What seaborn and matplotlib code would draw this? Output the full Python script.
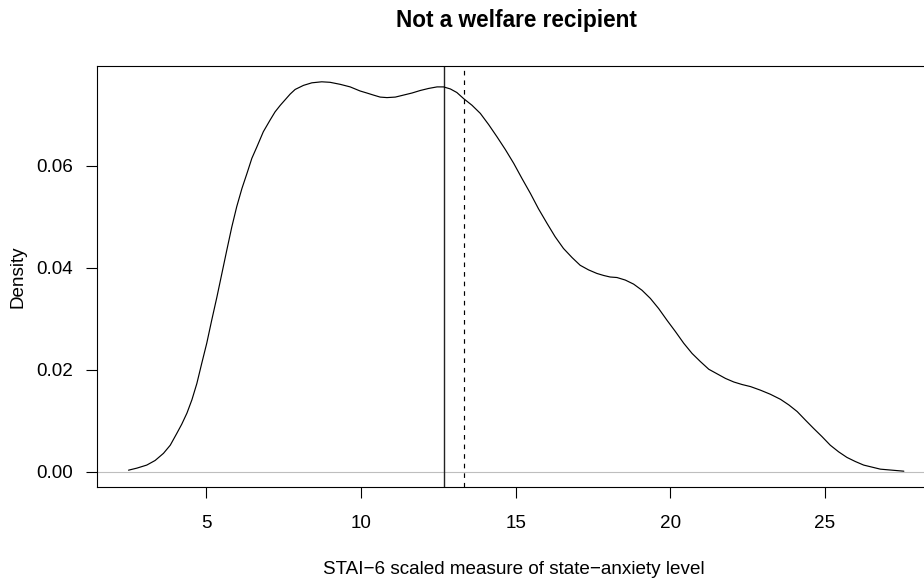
import matplotlib
matplotlib.use("Agg")
import matplotlib.pyplot as plt
import seaborn as sns
import pandas as pd

# Kernel density estimate of the STAI-6 score (non-recipients)
score = [2.48, 2.75, 3.07, 3.34, 3.61, 3.83, 4.04, 4.20, 4.37, 4.53,
         4.69, 4.85, 5.01, 5.17, 5.34, 5.50, 5.66, 5.82, 5.98, 6.15,
         6.31, 6.47, 6.63, 6.84, 7.06, 7.22, 7.39, 7.55, 7.71, 7.87,
         8.14, 8.41, 8.73, 9.00, 9.33, 9.65, 9.97, 10.19, 10.40, 10.62,
         10.84, 11.11, 11.38, 11.65, 11.92, 12.19, 12.46, 12.67, 12.89, 13.10,
         13.32, 13.59, 13.86, 14.13, 14.40, 14.67, 14.94, 15.21, 15.48, 15.74,
         16.02, 16.28, 16.55, 16.83, 17.09, 17.36, 17.63, 17.85, 18.06, 18.28,
         18.55, 18.82, 19.09, 19.36, 19.63, 19.90, 20.17, 20.44, 20.71, 20.98,
         21.25, 21.52, 21.79, 22.06, 22.33, 22.60, 22.92, 23.24, 23.57, 23.84,
         24.11, 24.38, 24.64, 24.91, 25.18, 25.45, 25.72, 25.99, 26.26, 26.53,
         26.80, 27.18, 27.56]
density = [0.0003, 0.0007, 0.0013, 0.0022, 0.0036, 0.0052, 0.0075, 0.0093, 0.0115, 0.0141,
           0.0173, 0.0213, 0.0252, 0.0297, 0.0343, 0.0389, 0.0435, 0.0480, 0.0520, 0.0556,
           0.0585, 0.0615, 0.0637, 0.0667, 0.0690, 0.0706, 0.0719, 0.0730, 0.0741, 0.0750,
           0.0758, 0.0763, 0.0765, 0.0764, 0.0760, 0.0755, 0.0747, 0.0743, 0.0739, 0.0735,
           0.0734, 0.0735, 0.0739, 0.0743, 0.0748, 0.0752, 0.0755, 0.0755, 0.0751, 0.0744,
           0.0732, 0.0719, 0.0703, 0.0681, 0.0657, 0.0632, 0.0605, 0.0575, 0.0546, 0.0516,
           0.0487, 0.0461, 0.0438, 0.0420, 0.0405, 0.0396, 0.0389, 0.0385, 0.0382, 0.0381,
           0.0376, 0.0368, 0.0356, 0.0340, 0.0320, 0.0297, 0.0275, 0.0252, 0.0232, 0.0216,
           0.0201, 0.0192, 0.0183, 0.0176, 0.0171, 0.0167, 0.0160, 0.0152, 0.0142, 0.0131,
           0.0118, 0.0101, 0.0085, 0.0069, 0.0052, 0.0039, 0.0028, 0.0020, 0.0013, 0.0009,
           0.0005, 0.0003, 0.0001]

# Reference lines: median (solid) and mean (dashed)
median_score = 12.70
mean_score = 13.33

x_ticks = [5, 10, 15, 20, 25]
y_ticks = [0.00, 0.02, 0.04, 0.06]
y_tick_labels = ["0.00", "0.02", "0.04", "0.06"]

title = "Not a welfare recipient"
x_label = "STAI\u22126 scaled measure of state\u2212anxiety level"
y_label = "Density"

sns.set_theme(style="white")
plt.rcParams["font.family"] = ["Liberation Sans", "DejaVu Sans"]
plt.rcParams["lines.scale_dashes"] = False

W, H, DPI = 924, 583, 100
fig = plt.figure(figsize=(W / DPI, H / DPI), dpi=DPI)
fig.patch.set_facecolor("white")

# plot region in pixels (right edge runs just past the figure)
left_px, right_px, top_px, bottom_px = 97.3, 936.0, 66.0, 487.3
ax = fig.add_axes([left_px / W, 1 - bottom_px / H,
                   (right_px - left_px) / W, (bottom_px - top_px) / H])
ax.set_facecolor("white")

df = pd.DataFrame({"score": score, "density": density})
ax.axhline(0, color="#BEBEBE", lw=0.8, zorder=1)
sns.lineplot(data=df, x="score", y="density", color="black", lw=0.85,
             ax=ax, zorder=3)
ax.axvline(median_score, color="#222222", lw=1.0, zorder=2)
ax.axvline(mean_score, color="black", lw=0.85, dashes=(3.3, 3.6), zorder=2)

ax.set_xlim(1.47, 28.6)
ax.set_ylim(-0.00306, 0.0796)
ax.set_xticks(x_ticks)
ax.set_xticklabels([str(t) for t in x_ticks])
ax.set_yticks(y_ticks)
ax.set_yticklabels(y_tick_labels)

for s in ax.spines.values():
    s.set_visible(True)
    s.set_color("black")
    s.set_linewidth(0.8)

ax.tick_params(axis="both", which="major", direction="out", color="black",
               width=0.8, length=8.2, labelsize=13.6, labelcolor="black",
               left=True, bottom=True)
ax.tick_params(axis="x", pad=11.5)
ax.tick_params(axis="y", pad=9.4)

ax.set_xlabel(x_label, fontsize=13.6, color="black")
ax.set_ylabel(y_label, fontsize=13.6, color="black")
ax.xaxis.set_label_coords(0.497, -(561.0 - bottom_px) / (bottom_px - top_px))
ax.yaxis.set_label_coords((27.0 - left_px) / (right_px - left_px), 0.5)
ax.set_title(title, fontsize=16.3, fontweight="bold", color="black", pad=28.0)

fig.savefig("out.png", dpi=DPI, facecolor="white")
